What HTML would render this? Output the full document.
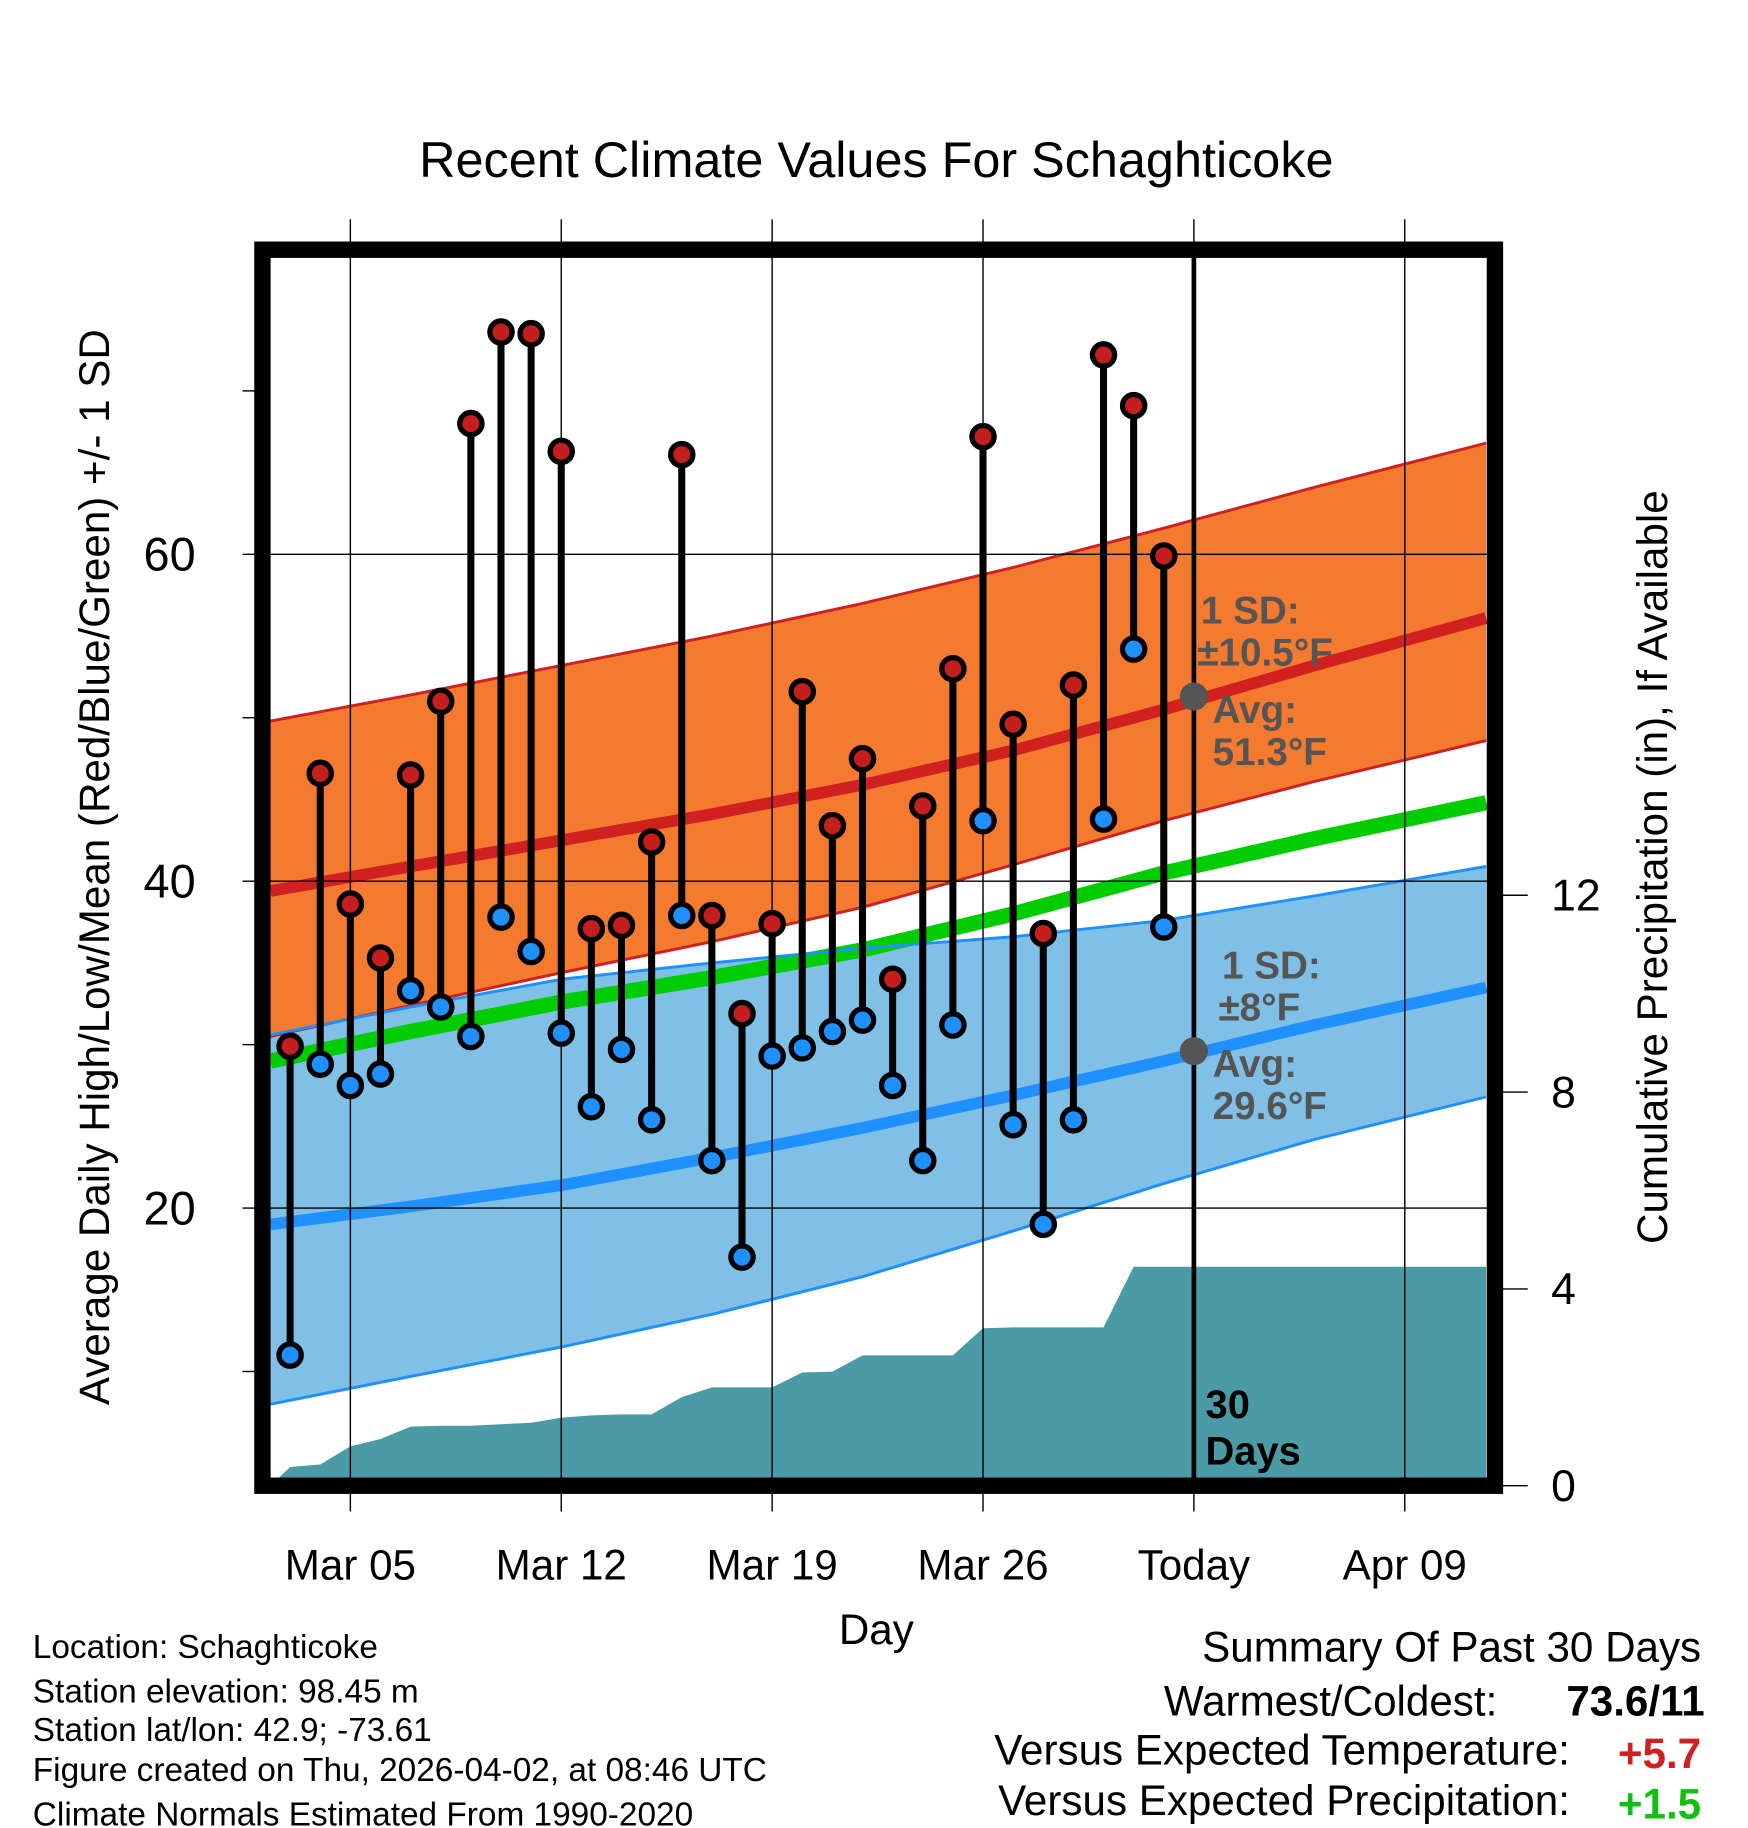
<!DOCTYPE html>
<html><head><meta charset="utf-8"><style>
html,body{margin:0;padding:0;background:#fff;}
svg{display:block;font-family:"Liberation Sans",Arial,sans-serif;}
</style></head><body>
<svg id="chart" width="1748" height="1828" viewBox="0 0 1492 1560" xmlns="http://www.w3.org/2000/svg">
<rect x="0" y="0" width="1492" height="1560" fill="#fff"/>
<text x="748" y="151" font-size="43" text-anchor="middle">Recent Climate Values For Schaghticoke</text>
<g id="bands"></g>
<g id="precip"></g>
<g id="grid"></g>
<g id="marks"></g>
<g id="annot" font-weight="bold" font-size="33" fill="#555">
<text x="1025" y="532">1 SD:</text>
<text x="1022" y="568">±10.5°F</text>
<text x="1035" y="617">Avg:</text>
<text x="1035" y="653">51.3°F</text>
<text x="1043" y="835">1 SD:</text>
<text x="1040" y="871">±8°F</text>
<text x="1035" y="919">Avg:</text>
<text x="1035" y="955">29.6°F</text>
</g>
<text x="1029" y="1210" font-size="34" font-weight="bold">30</text>
<text x="1029" y="1250" font-size="34" font-weight="bold">Days</text>
<rect x="224" y="213" width="1052" height="1055" fill="none" stroke="#000" stroke-width="14"/>
<g id="axes"></g>
<text transform="translate(93,740) rotate(-90)" font-size="36" text-anchor="middle">Average Daily High/Low/Mean (Red/Blue/Green) +/- 1 SD</text>
<text transform="translate(1423,740) rotate(-90)" font-size="36" text-anchor="middle">Cumulative Precipitation (in), If Available</text>
<text x="748" y="1403" font-size="36" text-anchor="middle">Day</text>
<g font-size="28.5">
<text x="28" y="1415">Location: Schaghticoke</text>
<text x="28" y="1453">Station elevation: 98.45 m</text>
<text x="28" y="1486">Station lat/lon: 42.9; -73.61</text>
<text x="28" y="1520">Figure created on Thu, 2026-04-02, at 08:46 UTC</text>
<text x="28" y="1558">Climate Normals Estimated From 1990-2020</text>
</g>
<g font-size="36">
<text x="1452" y="1418" text-anchor="end">Summary Of Past 30 Days</text>
<text x="1278" y="1464" text-anchor="end">Warmest/Coldest:</text>
<text x="1455" y="1464" text-anchor="end" font-weight="bold">73.6/11</text>
<text x="1340" y="1506" text-anchor="end">Versus Expected Temperature:</text>
<text x="1452" y="1509" text-anchor="end" font-weight="bold" fill="#d02020">+5.7</text>
<text x="1340" y="1549" text-anchor="end">Versus Expected Precipitation:</text>
<text x="1452" y="1552" text-anchor="end" font-weight="bold" fill="#10c010">+1.5</text>
</g>
</svg>
<script>
// day index 0 = Mar 1
const days = [2,3,4,5,6,7,8,9,10,11,12,13,14,15,16,17,18,19,20,21,22,23,24,25,26,27,28,29,30,31];
const highs = [29.9,46.6,38.6,35.3,46.5,51.0,68.0,73.6,73.5,66.3,37.1,37.3,42.4,66.1,37.9,31.9,37.4,51.6,43.4,47.5,34.0,44.6,53.0,67.2,49.6,36.8,52.0,72.2,69.1,59.9];
const lows = [11.0,28.8,27.5,28.2,33.3,32.3,30.5,37.8,35.7,30.7,26.2,29.7,25.4,37.9,22.9,17.0,29.3,29.8,30.8,31.5,27.5,22.9,31.2,43.7,25.1,19.0,25.4,43.8,54.2,37.2];
const precipDays = [1.35,2,3,4,5,6,7,8,9,10,11,12,13,14,15,16,17,18,19,20,21,22,23,24,25,26,27,28,29,30,31,41.7];
const precip = [0,0.38,0.43,0.8,0.95,1.2,1.22,1.22,1.25,1.28,1.38,1.43,1.45,1.45,1.8,2.0,2.0,2.0,2.3,2.32,2.65,2.65,2.65,2.65,3.2,3.22,3.22,3.22,3.22,4.45,4.45,4.45];
const normDays = [1.35,6,11,16,21,26,31,36,41.7];
const highUpper = [49.8,51.4,53.2,55.0,57.0,59.2,61.6,64.1,66.8];
const highMean = [39.4,40.9,42.5,44.1,45.9,48.0,50.5,53.2,56.1];
const highLower = [30.5,32.4,34.4,36.3,38.4,41.0,43.7,46.1,48.6];
const meanMean = [29.0,30.8,32.6,34.1,35.8,38.0,40.5,42.6,44.8];
const lowUpper = [30.6,32.3,34.0,35.0,35.9,36.6,37.6,39.1,40.9];
const lowMean = [19.0,20.1,21.4,23.1,24.9,26.9,29.0,31.2,33.5];
const lowLower = [8.0,9.7,11.5,13.5,15.8,18.6,21.5,24.2,26.8];
const yTicks = [20,40,60];
const yMinor = [10,30,50,70];
const y2Ticks = [0,4,8,12];
const xTickDays = [4,11,18,25,32,39];
const xTickLabels = ["Mar 05","Mar 12","Mar 19","Mar 26","Today","Apr 09"];
const todayDay = 32;
const todayHigh = 51.3, todayLow = 29.6;

const X = d => 196.2 + d*25.714;
const Y = t => 1031 - (t-20)*13.95;
const P = p => 1268 - p*42;
const NS = "http://www.w3.org/2000/svg";
function mk(parent, tag, attrs){const e=document.createElementNS(NS,tag);for(const k in attrs)e.setAttribute(k,attrs[k]);document.getElementById(parent).appendChild(e);return e;}
function pts(ds,vs,f){return ds.map((d,i)=>X(d).toFixed(1)+","+f(vs[i]).toFixed(1));}

let e;
e=mk("bands","polygon",{points:pts(normDays,lowUpper,Y).concat(pts(normDays,lowLower,Y).reverse()).join(" "),fill:"#80c0e6"});


e=mk("bands","polygon",{points:pts(normDays,highUpper,Y).concat(pts(normDays,highLower,Y).reverse()).join(" "),fill:"#f47a30"});


const lines=[[highUpper,"#d02020",2.5,"high-upper-line"],[highLower,"#d02020",2.5,"high-lower-line"],[highMean,"#d02020",10,"high-mean-line"],[meanMean,"#00cc00",13,"mean-line"],[lowUpper,"#1e90ff",2.5,"low-upper-line"],[lowLower,"#1e90ff",2.5,"low-lower-line"],[lowMean,"#1e90ff",10,"low-mean-line"]];
lines.forEach(l=>{
  e=mk("bands","polyline",{points:pts(normDays,l[0],Y).join(" "),fill:"none",stroke:l[1],"stroke-width":l[2],"stroke-linejoin":"round"});
  
  
});
e=mk("precip","polygon",{points:pts(precipDays,precip,P).concat([X(41.7)+","+P(0),X(1.35)+","+P(0)]).join(" "),fill:"#4a9ba5"});



xTickDays.forEach((d,i)=>{
  e=mk("grid","line",{x1:X(d),x2:X(d),y1:187,y2:1290,stroke:"#000","stroke-width":1.2});
  
  
  e=mk("axes","text",{x:X(d),y:1348,"font-size":36,"text-anchor":"middle"});
  e.textContent=xTickLabels[i];
  
  
});
yTicks.forEach(t=>{
  e=mk("grid","line",{x1:207,x2:1276,y1:Y(t),y2:Y(t),stroke:"#000","stroke-width":1.2});
  
  
  e=mk("axes","text",{x:167,y:Y(t)+14,"font-size":40,"text-anchor":"end"});
  e.textContent=t;
  
  
});
yMinor.forEach(t=>{
  e=mk("axes","line",{x1:207,x2:218,y1:Y(t),y2:Y(t),stroke:"#000","stroke-width":1.2});
  
  
});
y2Ticks.forEach(p=>{
  e=mk("axes","line",{x1:1282,x2:1304,y1:P(p),y2:P(p),stroke:"#000","stroke-width":1.2});
  
  
  e=mk("axes","text",{x:1324,y:P(p)+13,"font-size":38});
  e.textContent=p;
  
  
});
e=mk("grid","line",{x1:X(todayDay),x2:X(todayDay),y1:220,y2:1262,stroke:"#000","stroke-width":4});



days.forEach((d,i)=>{
  e=mk("marks","line",{x1:X(d),x2:X(d),y1:Y(highs[i]),y2:Y(lows[i]),stroke:"#000","stroke-width":6});
  
  
  e=mk("marks","circle",{cx:X(d),cy:Y(highs[i]),r:9.5,fill:"#c41e1e",stroke:"#000","stroke-width":4.5});
  
  
  e=mk("marks","circle",{cx:X(d),cy:Y(lows[i]),r:9.5,fill:"#1e90ff",stroke:"#000","stroke-width":4.5});
  
  
});
e=mk("marks","circle",{cx:X(todayDay),cy:Y(todayHigh),r:12,fill:"#555"});


e=mk("marks","circle",{cx:X(todayDay),cy:Y(todayLow),r:12,fill:"#555"});


</script>
</body></html>
